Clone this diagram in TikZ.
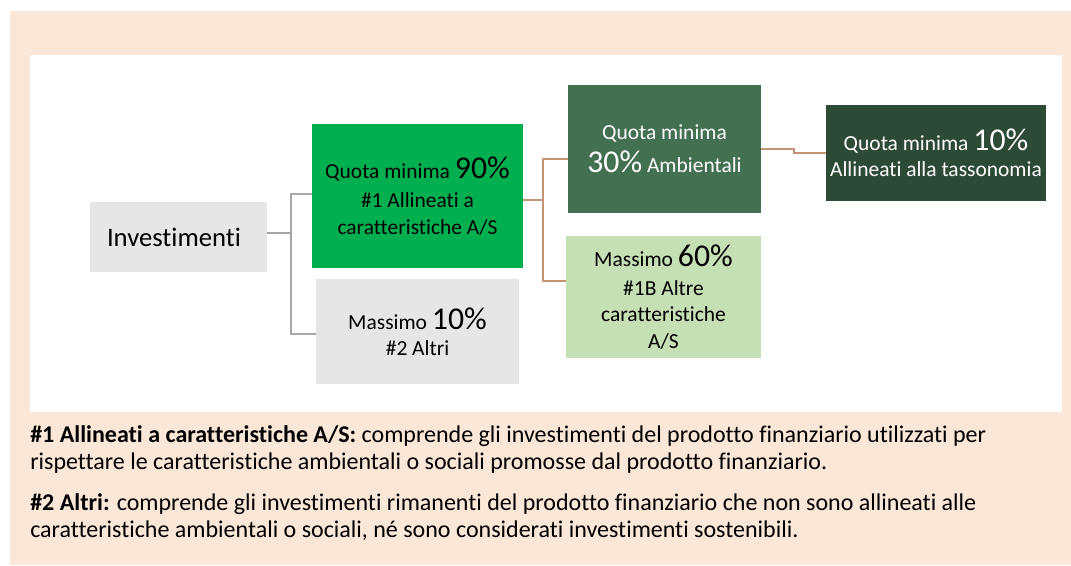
\documentclass[tikz,border=0pt]{standalone}
\usepackage{fontspec}
\setmainfont{Carlito}[Ligatures=NoCommon]
\definecolor{beige}{RGB}{250,231,215}
\definecolor{boxgray}{RGB}{230,230,230}
\definecolor{green90}{RGB}{0,176,80}
\definecolor{green30}{RGB}{68,112,82}
\definecolor{greentax}{RGB}{45,74,55}
\definecolor{green60}{RGB}{197,224,180}
\definecolor{conngray}{RGB}{166,166,166}
\definecolor{connbrown}{RGB}{196,146,116}
\newcommand{\boxfont}{\fontsize{16.1pt}{19.8pt}\selectfont}
\newcommand{\bigpct}[1]{{\fontsize{23.8pt}{23.8pt}\selectfont #1}}
\begin{document}
\begin{tikzpicture}[x=0.75pt,y=-0.75pt,
  box/.style={draw=none,inner sep=0pt,align=center,font=\boxfont},
  gconn/.style={draw=conngray,line width=1.8pt},
  bconn/.style={draw=connbrown,line width=1.5pt},
  foottext/.style={anchor=base west,inner sep=0pt,align=left,font=\fontsize{18pt}{20pt}\selectfont}]
\useasboundingbox (0,0) rectangle (1071,565);
\fill[beige] (10,11) rectangle (1071,565);
\fill[white] (30,55) rectangle (1062,412);
% boxes
\node[box,fill=boxgray,minimum width=132.75pt,minimum height=52.5pt,
  text width=107.25pt,align=left,font=\fontsize{20pt}{23pt}\selectfont] (inv) at (178.5,237) {Investimenti};
\node[box,fill=green90,minimum width=158.25pt,minimum height=108pt] (g90) at (417.5,196)
  {Quota minima \bigpct{90\%}\\[2pt] \#1 Allineati a\\ caratteristiche A/S};
\node[box,fill=boxgray,minimum width=152.25pt,minimum height=78.75pt] (g10) at (417.5,331.5)
  {Massimo \bigpct{10\%}\\ \#2 Altri};
\node[box,fill=green30,text=white,minimum width=144.75pt,minimum height=96pt] (g30) at (664.5,149)
  {Quota minima\\[5pt] \bigpct{30\%} Ambientali};
\node[box,fill=green60,minimum width=146.25pt,minimum height=91.5pt] (g60) at (663.5,297)
  {Massimo \bigpct{60\%}\\[2pt] \#1B Altre\\ caratteristiche\\ A/S};
\node[box,fill=greentax,text=white,minimum width=165pt,minimum height=72pt] (tax) at (936,153)
  {Quota minima \bigpct{10\%}\\ Allineati alla tassonomia};
% connectors
\draw[gconn] ([yshift=3pt]inv.east) -- ++(24,0) coordinate (gj) |- ([yshift=1.5pt]g90.west);
\draw[gconn] (gj) |- ([yshift=-1.9pt]g10.west);
\draw[bconn] ([yshift=-3pt]g90.east) -- ++(20,0) coordinate (bj) |- ([yshift=-7.5pt]g30.west);
\draw[bconn] (bj) |- ([yshift=12pt]g60.west);
\draw[bconn] (g30.east) -- ++(33,0) |- (tax.west);
% footer
\node[foottext] (foot1) at (30,469)
  {\textbf{\#1 Allineati a caratteristiche A/S:} comprende gli investimenti del prodotto finanziario utilizzati per\\
   rispettare le caratteristiche ambientali o sociali promosse dal prodotto finanziario.};
\node[foottext] (foot2) at (30,537)
  {\textbf{\#2 Altri:} comprende gli investimenti rimanenti del prodotto finanziario che non sono allineati alle\\
   caratteristiche ambientali o sociali, né sono considerati investimenti sostenibili.};
\end{tikzpicture}
\end{document}
